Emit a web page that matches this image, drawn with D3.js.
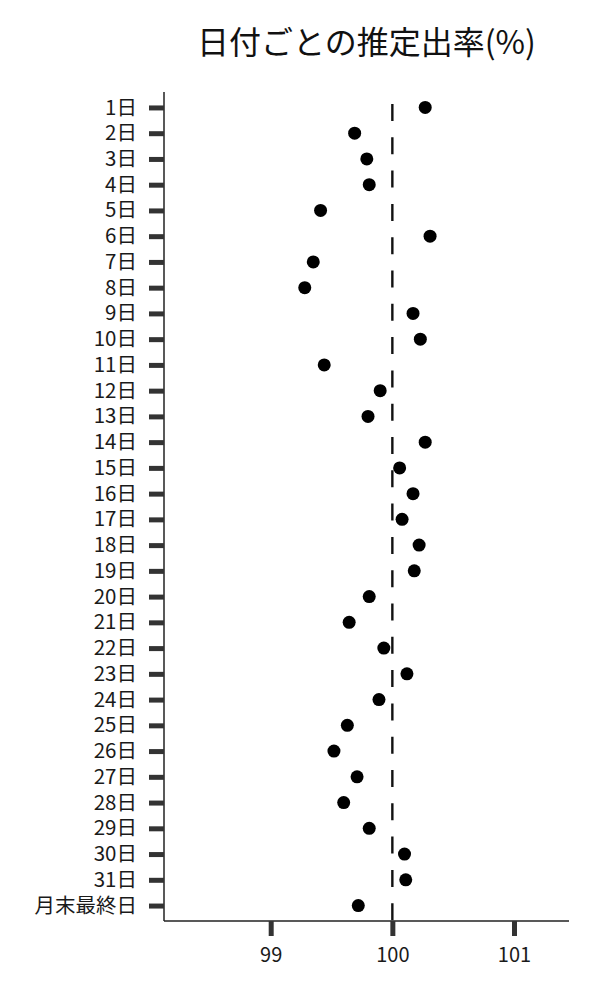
<!DOCTYPE html>
<html>
<head>
<meta charset="utf-8">
<script src="https://cdn.jsdelivr.net/npm/d3@7"></script>
<style>
  body { margin: 0; background: #fff; }
  text { font-family: "Noto Sans CJK JP", "Noto Sans", sans-serif; }
</style>
</head>
<body>
<script>
const width = 600;
const height = 1000;

// categories (top to bottom) and estimated rates
const days = ['1日','2日','3日','4日','5日','6日','7日','8日','9日','10日',
              '11日','12日','13日','14日','15日','16日','17日','18日','19日','20日',
              '21日','22日','23日','24日','25日','26日','27日','28日','29日','30日',
              '31日','月末最終日'];
const rates = [100.27, 99.69, 99.79, 99.81, 99.41, 100.31, 99.35, 99.28, 100.17, 100.23,
               99.44, 99.90, 99.80, 100.27, 100.06, 100.17, 100.08, 100.22, 100.18, 99.81,
               99.645, 99.93, 100.12, 99.89, 99.63, 99.52, 99.71, 99.60, 99.81, 100.10,
               100.11, 99.72];
const xTicks = [99, 100, 101];
const refValue = 100;
const title = '日付ごとの推定出率(%)';

const margin = {top: 92, right: 31, bottom: 79, left: 164};

const svg = d3.select('body').append('svg').attr('width', width).attr('height', height);

const xs = d3.scaleLinear()
  .domain([98.123, 101.452])
  .range([margin.left, width - margin.right]);

const ys = d3.scalePoint()
  .domain(days)
  .range([margin.top, height - margin.bottom])
  .padding(0.6);

// title
svg.append('text')
  .attr('x', (margin.left + width - margin.right) / 2)
  .attr('y', 54)
  .attr('text-anchor', 'middle')
  .style('font-size', '32px')
  .style('fill', '#111')
  .text(title);

// reference line
svg.append('line')
  .attr('x1', xs(refValue)).attr('x2', xs(refValue))
  .attr('y1', margin.top + 12).attr('y2', height - margin.bottom)
  .style('stroke', '#111')
  .style('stroke-width', 2.4)
  .style('stroke-dasharray', '17,16.3');

// y axis
const yAxisG = svg.append('g')
  .attr('transform', `translate(${margin.left},0)`)
  .call(d3.axisLeft(ys).tickSize(15).tickPadding(12));
yAxisG.select('.domain').attr('d', `M0,${margin.top}V${height - margin.bottom}`)
  .style('stroke', '#222').style('stroke-width', 1.5);
yAxisG.selectAll('.tick line').style('stroke', '#333').style('stroke-width', 5);
yAxisG.selectAll('.tick text').style('font-size', '20.5px').style('fill', '#1a1a1a')
  .style('font-family', '"Noto Sans CJK JP", sans-serif');

// x axis
const xAxisG = svg.append('g')
  .attr('transform', `translate(0,${height - margin.bottom})`)
  .call(d3.axisBottom(xs).tickValues(xTicks).tickSize(15).tickPadding(12).tickFormat(d3.format('d')));
xAxisG.select('.domain').attr('d', `M${margin.left},0H${width - margin.right}`)
  .style('stroke', '#222').style('stroke-width', 1.5);
xAxisG.selectAll('.tick line').style('stroke', '#333').style('stroke-width', 5);
xAxisG.selectAll('.tick text').style('font-size', '20px').style('fill', '#1a1a1a')
  .style('font-family', '"Noto Sans CJK JP", sans-serif');

// points
svg.append('g')
  .selectAll('circle')
  .data(days)
  .enter()
  .append('circle')
  .attr('cx', function(d, i){ return xs(rates[i]); })
  .attr('cy', function(d){ return ys(d); })
  .attr('r', 6.5)
  .style('fill', '#000');
</script>
</body>
</html>
